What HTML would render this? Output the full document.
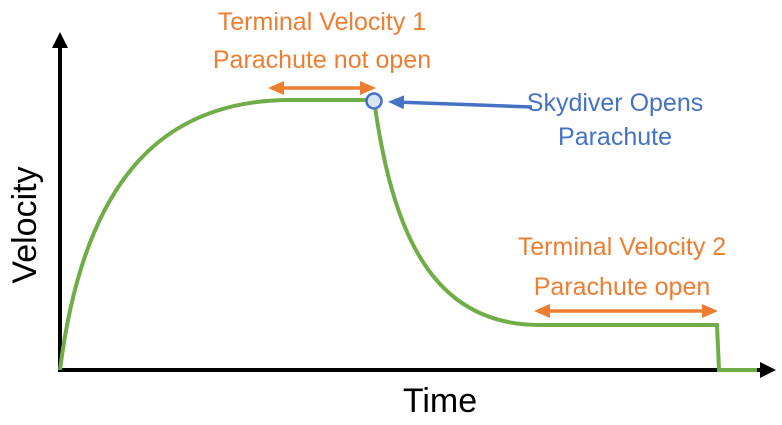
<!DOCTYPE html>
<html><head><style>body{margin:0;background:#fff}svg text{font-family:"Liberation Sans",sans-serif}</style></head><body>
<svg width="782" height="420" xmlns="http://www.w3.org/2000/svg">
<defs>
<marker id="ob" markerWidth="16" markerHeight="14" refX="8" refY="7" orient="auto-start-reverse" markerUnits="userSpaceOnUse"><path d="M0,0 L16,7 L0,14z" fill="#ed7d31"/></marker>
<marker id="bb" markerWidth="16" markerHeight="14" refX="8" refY="7" orient="auto" markerUnits="userSpaceOnUse"><path d="M0,0 L16,7 L0,14z" fill="#4472c4"/></marker>
</defs>
<path d="M60,372 L60,45" stroke="#000" stroke-width="4"/>
<path d="M52,48 L60,32 L68,48z" fill="#000"/>
<path d="M58,370 L765,370" stroke="#000" stroke-width="4"/>
<path d="M760,362 L776,370 L760,378z" fill="#000"/>
<path d="M60,370 C85,170 170,100 290,100 L374,100 C392,230 430,325 540,325 L717,325 L719,370 L757,370" fill="none" stroke="#70ad47" stroke-width="4"/>
<line x1="276" y1="88" x2="368" y2="88" stroke="#ed7d31" stroke-width="3.5" marker-start="url(#ob)" marker-end="url(#ob)"/>
<line x1="542" y1="311" x2="710" y2="311" stroke="#ed7d31" stroke-width="3.5" marker-start="url(#ob)" marker-end="url(#ob)"/>
<line x1="532" y1="107" x2="396" y2="102" stroke="#4472c4" stroke-width="3.5" marker-end="url(#bb)"/>
<circle cx="374" cy="101" r="7.5" fill="#dae3f3" stroke="#4472c4" stroke-width="2.5"/>
<g fill="#ed7d31" font-size="25" text-anchor="middle">
<text x="322" y="30">Terminal Velocity 1</text>
<text x="322" y="68">Parachute not open</text>
<text x="622" y="255">Terminal Velocity 2</text>
<text x="622" y="295">Parachute open</text>
</g>
<g fill="#4472c4" font-size="25" text-anchor="middle">
<text x="615" y="111">Skydiver Opens</text>
<text x="615" y="145">Parachute</text>
</g>
<text x="440" y="412" font-size="34" text-anchor="middle">Time</text>
<text transform="translate(36,225) rotate(-90)" font-size="34" text-anchor="middle">Velocity</text>
</svg>
</body></html>
